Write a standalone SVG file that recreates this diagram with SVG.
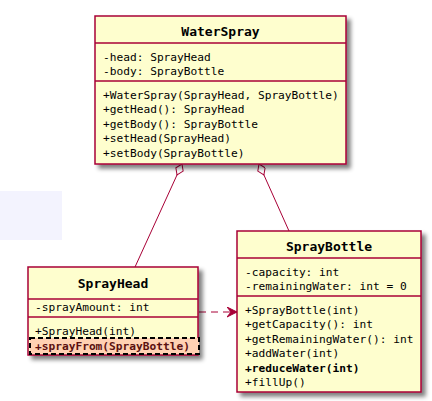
<svg xmlns="http://www.w3.org/2000/svg" width="432" height="401" viewBox="0 0 432 401">
<style>
.box{fill:#FEFECE;stroke:#A80036;stroke-width:1.5}
.sep{stroke:#A80036;stroke-width:1.5}
.t{font-family:"DejaVu Sans Mono","Liberation Mono",monospace;font-size:11.2px;fill:#000}
.title{font-weight:bold;text-anchor:middle;font-size:13px}
.b{font-weight:bold}
.edge{stroke:#A80036;stroke-width:1;fill:none}
</style>
<defs>
<filter id="sh" x="-10%" y="-10%" width="130%" height="130%">
<feGaussianBlur in="SourceAlpha" stdDeviation="2"/>
<feOffset dx="4" dy="4" result="o"/>
<feComponentTransfer in="o" result="s"><feFuncA type="linear" slope="0.5"/></feComponentTransfer>
<feMerge><feMergeNode in="s"/><feMergeNode in="SourceGraphic"/></feMerge>
</filter>
<marker id="dia" markerWidth="14" markerHeight="10" refX="0" refY="4.5" orient="auto" markerUnits="userSpaceOnUse">
<path d="M0,4.5 L6,0.5 L12,4.5 L6,8.5 Z" fill="#FFFFFF" stroke="#A80036" stroke-width="1"/>
</marker>
<marker id="arr" markerWidth="12" markerHeight="12" refX="10" refY="5" orient="auto" markerUnits="userSpaceOnUse">
<path d="M0,0 L10,5 L0,10 L4,5 Z" fill="#A80036" stroke="#A80036" stroke-width="1"/>
</marker>
</defs>
<rect x="0" y="191" width="62" height="49" fill="#F3F3FE"/>
<g id="connectors">
<line class="edge" x1="182" y1="164" x2="135" y2="267" marker-start="url(#dia)"/>
<line class="edge" x1="259" y1="164" x2="289" y2="231" marker-start="url(#dia)"/>
<line class="edge" x1="199" y1="312" x2="237" y2="312" stroke-dasharray="7,5" marker-end="url(#arr)"/>
</g>
<g id="WaterSpray">
<rect class="box" x="95" y="16" width="251" height="148" filter="url(#sh)"/>
<line class="sep" x1="95" y1="43" x2="346" y2="43"/>
<line class="sep" x1="95" y1="81" x2="346" y2="81"/>
<text class="t title" x="220.5" y="36">WaterSpray</text>
<text class="t" x="103" y="61">-head: SprayHead</text>
<text class="t" x="103" y="75">-body: SprayBottle</text>
<text class="t" x="103" y="99">+WaterSpray(SprayHead, SprayBottle)</text>
<text class="t" x="103" y="113">+getHead(): SprayHead</text>
<text class="t" x="103" y="128">+getBody(): SprayBottle</text>
<text class="t" x="103" y="142">+setHead(SprayHead)</text>
<text class="t" x="103" y="157">+setBody(SprayBottle)</text>
</g>
<g id="SprayHead">
<rect class="box" x="28" y="267" width="170" height="88" filter="url(#sh)"/>
<line class="sep" x1="28" y1="299" x2="198" y2="299"/>
<line class="sep" x1="28" y1="317" x2="198" y2="317"/>
<text class="t title" x="113" y="288">SprayHead</text>
<text class="t" x="35" y="311">-sprayAmount: int</text>
<text class="t" x="35" y="335">+SprayHead(int)</text>
<rect x="30" y="338" width="169" height="16" fill="#FFD1B3" stroke="#000" stroke-width="2" stroke-dasharray="5,3"/>
<text class="t b" x="35" y="350" style="fill:#5a1010">+sprayFrom(SprayBottle)</text>
</g>
<g id="SprayBottle">
<rect class="box" x="237" y="231" width="184" height="161" filter="url(#sh)"/>
<line class="sep" x1="237" y1="258" x2="421" y2="258"/>
<line class="sep" x1="237" y1="296" x2="421" y2="296"/>
<text class="t title" x="329" y="251">SprayBottle</text>
<text class="t" x="245" y="276">-capacity: int</text>
<text class="t" x="245" y="290">-remainingWater: int = 0</text>
<text class="t" x="245" y="314">+SprayBottle(int)</text>
<text class="t" x="245" y="328">+getCapacity(): int</text>
<text class="t" x="245" y="343">+getRemainingWater(): int</text>
<text class="t" x="245" y="357">+addWater(int)</text>
<text class="t b" x="245" y="372">+reduceWater(int)</text>
<text class="t" x="245" y="386">+fillUp()</text>
</g>
</svg>
